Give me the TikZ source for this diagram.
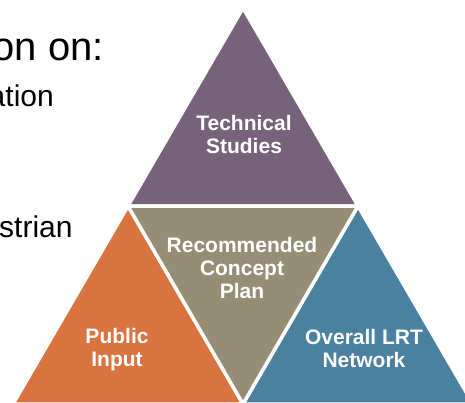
\documentclass[tikz,border=0pt]{standalone}
\usepackage{fontspec}
\setmainfont{Liberation Sans}
\definecolor{techpurple}{HTML}{76627A}
\definecolor{planolive}{HTML}{968E74}
\definecolor{inputorange}{HTML}{D97340}
\definecolor{lrtblue}{HTML}{4A80A0}

\begin{document}
\begin{tikzpicture}[x=1pt,y=-1pt,
    piece/.style={draw=white,line width=3.5pt,line join=round},
    tritext/.style={text=white,font=\bfseries\fontsize{21}{23}\selectfont,align=center,inner sep=0pt},
    slidetext/.style={inner sep=0pt,text=black}]
            \clip (0,0) rectangle (465,402);
            \fill[white] (0,0) rectangle (465,402);
            \coordinate (apex) at (243,8);
            \coordinate (midL) at (128,206);
            \coordinate (midR) at (358,206);
            \coordinate (midB) at (243,404);
            \coordinate (cornL) at (13,404);
            \coordinate (cornR) at (473,404);
            \node[slidetext,anchor=base east,font=\fontsize{40}{44}\selectfont] (head) at (104,60) {on on:};
            \node[slidetext,anchor=base east,font=\fontsize{30}{34}\selectfont] (item1) at (54,106) {ation};
            \node[slidetext,anchor=base west,font=\fontsize{30}{34}\selectfont] (item2) at (-1,237) {strian};
            \draw[piece,fill=techpurple] (apex) -- (midR) -- (midL) -- cycle;
            \draw[piece,fill=inputorange] (midL) -- (midB) -- (cornL) -- cycle;
            \draw[piece,fill=lrtblue] (midR) -- (cornR) -- (midB) -- cycle;
            \draw[piece,fill=planolive] (midL) -- (midR) -- (midB) -- cycle;
            \node[tritext] (tech) at (244,134) {Technical\\Studies};
            \node[tritext] (plan) at (242,268) {Recommended\\Concept\\Plan};
            \node[tritext] (input) at (117,350) {Public\\Input};
            \node[tritext] (network) at (364,348) {Overall LRT\\Network};
        \end{tikzpicture}
\end{document}
